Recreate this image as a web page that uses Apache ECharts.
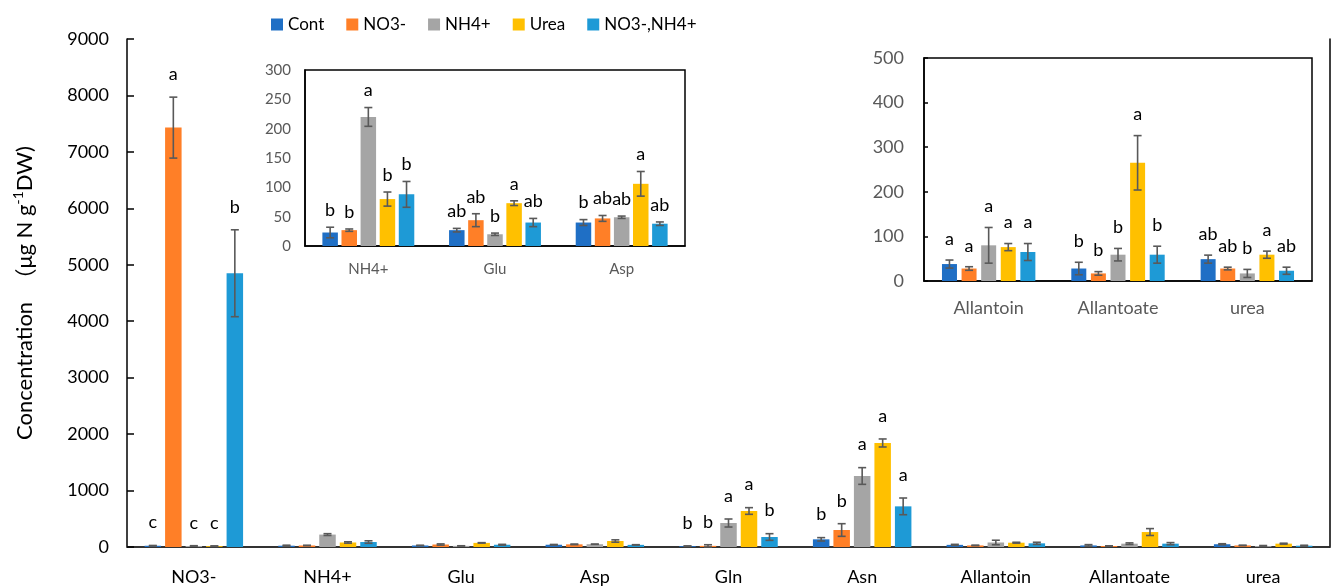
<!DOCTYPE html>
<html>
<head>
<meta charset="utf-8">
<style>
  html, body { margin: 0; padding: 0; background: #fff; }
  #chart { width: 1339px; height: 587px; }
</style>
<script src="https://cdn.jsdelivr.net/npm/echarts@6/dist/echarts.min.js"></script>
</head>
<body>
<div id="chart"></div>
<script>
// Nitrogen compounds measured under five nitrogen treatments
const categories = ['NO3-', 'NH4+', 'Glu', 'Asp', 'Gln', 'Asn', 'Allantoin', 'Allantoate', 'urea'];
const treatments = ['Cont', 'NO3-', 'NH4+', 'Urea', 'NO3-,NH4+'];

// means (µg N g-1 DW), one value per compound
const contMean  = [22, 23, 27, 40, 15, 136, 38, 28, 49];
const no3Mean   = [7430, 27, 44, 47, 20, 301, 28, 17, 28];
const nh4Mean   = [18, 220, 20, 49, 425, 1258, 80, 59, 17];
const ureaMean  = [15, 80, 73, 106, 638, 1843, 76, 265, 59];
const mixMean   = [4850, 88, 40, 38, 177, 720, 65, 59, 23];

// standard errors
const contErr = [5, 9, 3, 5, 5, 30, 9, 14, 9];
const no3Err  = [540, 2, 11, 5, 20, 112, 4, 4, 3];
const nh4Err  = [5, 16, 2, 2, 71, 148, 40, 14, 9];
const ureaErr = [5, 12, 4, 21, 59, 71, 8, 61, 8];
const mixErr  = [770, 22, 7, 3, 59, 148, 19, 19, 8];

// significance letters
const contSig = ['c', 'b', 'ab', 'b', 'b', 'b', 'a', 'b', 'ab'];
const no3Sig  = ['a', 'b', 'ab', 'ab', 'b', 'b', 'a', 'b', 'ab'];
const nh4Sig  = ['c', 'a', 'b', 'ab', 'a', 'a', 'a', 'b', 'b'];
const ureaSig = ['c', 'b', 'a', 'a', 'a', 'a', 'a', 'a', 'a'];
const mixSig  = ['b', 'b', 'ab', 'ab', 'b', 'a', 'a', 'b', 'ab'];

// which compounds each panel shows, and where letters go on the main panel
const insetLeftCats  = [1, 2, 3];
const insetRightCats = [6, 7, 8];
const mainLetterCats = [0, 4, 5];

// y axis ticks
const mainTicks  = { min: 0, max: 9000, interval: 1000 };
const leftTicks  = { min: 0, max: 300, interval: 50 };
const rightTicks = { min: 0, max: 500, interval: 100 };

const means  = [contMean, no3Mean, nh4Mean, ureaMean, mixMean];
const errs   = [contErr, no3Err, nh4Err, ureaErr, mixErr];
const sigs   = [contSig, no3Sig, nh4Sig, ureaSig, mixSig];
const colors = ['#1F6FC5', '#FF7F27', '#A5A5A5', '#FFC000', '#1E9AD6'];

const FONT = 'Lato, "Noto Sans", sans-serif';

// panel geometry: grid box, bar width, gap between bars, letter lift above error cap
const panels = [
  { cats: [0,1,2,3,4,5,6,7,8], letterCats: mainLetterCats, barW: 16.5, gapPx: 4, lift: 23, font: 18,
    grid: { left: 127, right: 9, top: 39, bottom: 40 } },
  { cats: insetLeftCats, letterCats: insetLeftCats, barW: 15.5, gapPx: 3.6, lift: 17, font: 18,
    grid: { left: 305, top: 70, width: 380, height: 176 } },
  { cats: insetRightCats, letterCats: insetRightCats, barW: 15, gapPx: 4.6, lift: 21, font: 18,
    grid: { left: 924, top: 58, width: 388, height: 223 } }
];

const grids = [], xAxes = [], yAxes = [], series = [];

panels.forEach((p, gi) => {
  const isMain = gi === 0;
  grids.push(Object.assign({
    show: !isMain, backgroundColor: '#fff', borderColor: '#000', borderWidth: 1.5,
    containLabel: false, z: isMain ? 0 : 5
  }, p.grid));
  const catNames = p.cats.map(c => categories[c]);
  const ticks = [mainTicks, leftTicks, rightTicks][gi];

  xAxes.push({
    type: 'category', gridIndex: gi, data: catNames, z: isMain ? 0 : 6,
    axisLine: { show: true, lineStyle: { color: isMain ? '#BFBFBF' : '#000', width: 1.5 } },
    axisTick: { show: false },
    axisLabel: {
      color: isMain ? '#000' : '#595959', fontFamily: FONT,
      fontSize: gi === 1 ? 15 : 18, margin: isMain ? 21 : (gi === 1 ? 16 : 18)
    }
  });
  yAxes.push({
    type: 'value', gridIndex: gi, min: ticks.min, max: ticks.max, interval: ticks.interval,
    z: isMain ? 0 : 6,
    splitLine: { show: false },
    axisLine: { show: true, lineStyle: { color: '#000', width: 1.5 } },
    axisTick: { show: gi !== 1, inside: true, length: isMain ? 7 : 4, lineStyle: { color: '#000', width: 1.5 } },
    axisLabel: {
      color: isMain ? '#000' : '#595959', fontFamily: FONT,
      fontSize: gi === 1 ? 15 : 18, margin: isMain ? 18 : (gi === 1 ? 14 : 20),
      formatter: v => String(v)
    },
    name: isMain ? '{b|Concentration  }{c|（}{b|μg N g}{s|-1}{b|DW)}' : '',
    nameLocation: 'middle', nameGap: 88,
    nameTextStyle: {
      rich: {
        b: { fontFamily: FONT, fontSize: 22, color: '#000', lineHeight: 28 },
        c: { fontFamily: '"Noto Sans CJK SC", sans-serif', fontSize: 22, color: '#000', lineHeight: 28 },
        s: { fontFamily: FONT, fontSize: 14, color: '#000', lineHeight: 28, verticalAlign: 'top', padding: [0, 0, 10, 0] }
      }
    }
  });

  treatments.forEach((name, si) => {
    const meanArr = means[si], errArr = errs[si], sigArr = sigs[si];
    series.push({
      type: 'bar', name: name, xAxisIndex: gi, yAxisIndex: gi,
      data: p.cats.map(c => meanArr[c]),
      barWidth: p.barW, barGap: (p.gapPx / p.barW * 100) + '%',
      itemStyle: { color: colors[si] },
      z: isMain ? 2 : 7
    });
    // error bars and letters, placed on the same bar slot
    series.push({
      type: 'custom', xAxisIndex: gi, yAxisIndex: gi, z: isMain ? 3 : 8,
      silent: true,
      data: p.cats.map((c, i) => [i, meanArr[c], errArr[c], c]),
      renderItem: function (params, api) {
        const ci = api.value(0), m = api.value(1), e = api.value(2), cat = api.value(3);
        const offset = (si - 2) * (p.barW + p.gapPx);
        const top = api.coord([ci, m + e]);
        const bot = api.coord([ci, Math.max(m - e, 0)]);
        const x = top[0] + offset;
        const cap = 4;
        const st = { stroke: '#595959', lineWidth: 1.6 };
        const children = [
          { type: 'line', shape: { x1: x, y1: top[1], x2: x, y2: bot[1] }, style: st },
          { type: 'line', shape: { x1: x - cap, y1: top[1], x2: x + cap, y2: top[1] }, style: st },
          { type: 'line', shape: { x1: x - cap, y1: bot[1], x2: x + cap, y2: bot[1] }, style: st }
        ];
        if (p.letterCats.indexOf(cat) >= 0) {
          children.push({
            type: 'text',
            style: {
              x: x, y: top[1] - p.lift, text: sigArr[cat],
              fill: '#000', font: p.font + 'px ' + FONT,
              textAlign: 'center', textVerticalAlign: 'middle'
            }
          });
        }
        return { type: 'group', children: children };
      }
    });
  });
});

// frame of the main panel: top and right edges
xAxes.push({
  type: 'category', gridIndex: 0, position: 'top', data: categories,
  axisLine: { show: true, lineStyle: { color: '#000', width: 1.5 } },
  axisTick: { show: false }, axisLabel: { show: false }
});
yAxes.push({
  type: 'value', gridIndex: 0, position: 'right', min: 0, max: 9000, interval: 1000,
  axisLine: { show: true, lineStyle: { color: '#000', width: 1.5 } },
  axisTick: { show: false }, axisLabel: { show: false }, splitLine: { show: false }
});

const chart = echarts.init(document.getElementById('chart'), null, { renderer: 'canvas' });
chart.setOption({
  animation: false,
  backgroundColor: '#fff',
  legend: {
    data: treatments, left: 266, top: 11,
    icon: 'rect', itemWidth: 12, itemHeight: 12, itemGap: 22,
    textStyle: { fontFamily: FONT, fontSize: 17, color: '#000' }
  },
  grid: grids,
  xAxis: xAxes,
  yAxis: yAxes,
  series: series
});
</script>
</body>
</html>
